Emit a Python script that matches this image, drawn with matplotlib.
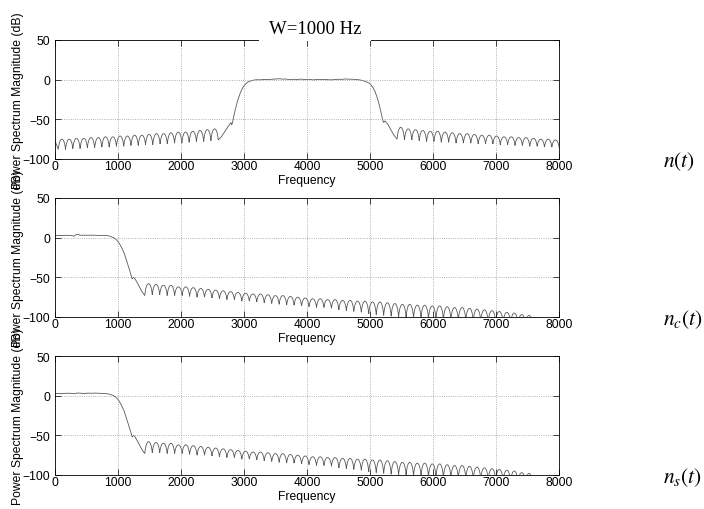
import numpy as np
import matplotlib.pyplot as plt
from matplotlib.path import Path
from matplotlib.patches import PathPatch, Rectangle

plt.rcParams['font.family'] = ['Liberation Sans', 'DejaVu Sans']
plt.rcParams['mathtext.fontset'] = 'stix'

# ---------------- n(t) : band-pass noise spectrum ----------------
# low stopband lobes (null frequencies / null levels / peak levels)
n_low_null_f = [52, 167, 283, 398, 514, 629, 744, 860, 975, 1091, 1206, 1321,
                1437, 1552, 1668, 1783, 1898, 2014, 2129, 2245, 2360, 2475, 2591]
n_low_null_db = [-88, -88, -87, -87, -86, -86, -85, -85, -84, -84, -83, -83,
                 -82, -82, -81, -81, -80, -80, -79, -78, -78, -77, -76]
n_low_peak_db = [-75, -75, -74, -74, -73, -73, -72, -72, -71, -71, -70, -70,
                 -69, -68, -68, -67, -66, -66, -65, -64, -63, -62]

# rising edge, passband and falling edge
n_band_f = [2640, 2690, 2740, 2775, 2792, 2803, 2815, 2840, 2870, 2900, 2940, 2980,
            3020, 3060, 3110, 3160, 3200, 3250, 3300, 3350, 3400, 3450, 3500, 3560,
            3620, 3660, 3700, 3760, 3800, 3850, 3900, 3950, 4000, 4050, 4100, 4150,
            4200, 4250, 4300, 4350, 4400, 4450, 4500, 4550, 4600, 4650, 4700, 4780,
            4850, 4900, 4950, 5000, 5040, 5080, 5120, 5150, 5180, 5200, 5215, 5235,
            5260, 5290, 5330, 5380]
n_band_db = [-72, -66, -60, -56, -54, -57, -55, -45, -35, -26, -17, -10,
             -6, -3, -1.5, -0.5, 0, -0.3, 0.3, 0.1, 0.2, 0.6, 0.8, 1.2,
             0.6, 0.8, 0.4, 0.2, 0.5, 0.2, 0.7, 0.3, 0.1, 0.4, -0.3, 0.2,
             0.4, 0.1, 0.2, -0.2, -0.2, 0.3, 0.5, 0.3, 0.9, 0.6, 0.6, 0.3,
             -0.5, -1.5, -3, -5, -9, -15, -24, -33, -43, -50, -54, -52,
             -54, -57, -63, -70]

# high stopband lobes
n_high_null_f = [5430, 5547, 5664, 5781, 5898, 6015, 6132, 6249, 6366, 6483, 6600, 6717,
                 6834, 6951, 7068, 7185, 7302, 7419, 7536, 7653, 7770, 7887, 8004]
n_high_null_db = [-75, -76, -76, -77, -78, -78, -79, -79, -80, -80, -80, -81,
                  -81, -81, -82, -82, -83, -83, -84, -84, -85, -85, -86]
n_high_peak_db = [-60, -62, -63, -64, -65, -65, -66, -67, -68, -68, -69, -70,
                  -70, -71, -72, -72, -73, -73, -74, -75, -75, -76]

# ---------------- n_c(t), n_s(t) : low-pass components ----------------
nc_pass_f = [0, 60, 120, 180, 240, 280, 300, 330, 360, 400, 460, 520, 580, 640, 700,
             760, 820, 870, 930, 980, 1020, 1060, 1100, 1140, 1180, 1210, 1225, 1245,
             1270, 1300, 1340, 1380]
nc_pass_db = [2.5, 2.7, 2.8, 3.0, 2.8, 2.5, 1.8, 3.5, 4.2, 3.0, 3.1, 3.0, 3.2, 3.0, 2.8,
              2.9, 2.6, 2.0, 0, -3, -7, -13, -20, -30, -40, -48, -52, -50,
              -52, -56, -62, -68]
ns_pass_f = nc_pass_f
ns_pass_db = [2.6, 2.9, 2.7, 3.1, 3.0, 2.6, 2.4, 3.0, 3.3, 3.1, 2.8, 3.2, 3.0, 3.3, 3.0,
              2.7, 2.5, 1.8, 0, -3, -7, -13, -20, -30, -40, -48, -52, -50,
              -52, -56, -62, -68]

lp_null_f = [1425, 1544, 1662, 1781, 1899, 2018, 2136, 2255, 2373, 2492, 2610, 2729,
             2847, 2966, 3084, 3203, 3321, 3440, 3558, 3677, 3795, 3914, 4032, 4151,
             4269, 4388, 4506, 4625, 4743, 4862, 4980, 5099, 5217, 5336, 5454, 5573,
             5691, 5810, 5928, 6047, 6165, 6284, 6402, 6521, 6639, 6758, 6876, 6995,
             7113, 7232, 7350, 7469, 7587]
lp_null_db = [-73, -72, -72, -73, -73, -73, -74, -75, -75, -76, -77, -78,
              -78, -80, -80, -81, -82, -83, -84, -85, -85, -86, -87, -88,
              -88, -89, -91, -92, -93, -94, -96, -97, -98, -99, -100, -100,
              -101, -101, -102, -102, -103, -103, -104, -104, -105, -105, -106, -106,
              -107, -108, -109, -110, -114]
lp_peak_db = [-58, -59, -60, -60, -62, -62, -63, -64, -65, -66, -67, -68,
              -69, -70, -71, -71, -72, -73, -73, -74, -75, -76, -77, -77,
              -78, -78, -79, -79, -80, -80, -81, -81, -82, -83, -84, -84,
              -85, -85, -86, -86, -87, -88, -88, -89, -90, -91, -92, -93,
              -94, -95, -97, -98]

freq_ticks = [0, 1000, 2000, 3000, 4000, 5000, 6000, 7000, 8000]
db_ticks = [-100, -50, 0, 50]
ylabel = 'Power Spectrum Magnitude (dB)'
side_labels = ['$n(t)$', '$n_c(t)$', '$n_s(t)$']


def add_lobes(verts, codes, null_f, null_db, peak_db):
    # each sidelobe is one cubic bezier from null to null, top at the peak level
    for i in range(len(peak_db)):
        xa, ya = null_f[i], null_db[i]
        xb, yb = null_f[i + 1], null_db[i + 1]
        c = (peak_db[i] - (ya + yb) / 8.0) * 4.0 / 3.0
        w = xb - xa
        verts += [(xa + 0.18 * w, c), (xb - 0.18 * w, c), (xb, yb)]
        codes += [Path.CURVE4] * 3


def add_line(verts, codes, f, db):
    verts += list(zip(f, db))
    codes += [Path.LINETO] * len(f)


# n(t) path
v1, c1 = [(0, -77)], [Path.MOVETO]
add_line(v1, c1, [n_low_null_f[0]], [n_low_null_db[0]])
add_lobes(v1, c1, n_low_null_f, n_low_null_db, n_low_peak_db)
add_line(v1, c1, n_band_f, n_band_db)
add_line(v1, c1, [n_high_null_f[0]], [n_high_null_db[0]])
add_lobes(v1, c1, n_high_null_f, n_high_null_db, n_high_peak_db)


def lowpass_path(pass_f, pass_db):
    v, c = [(pass_f[0], pass_db[0])], [Path.MOVETO]
    add_line(v, c, pass_f[1:], pass_db[1:])
    add_line(v, c, [lp_null_f[0]], [lp_null_db[0]])
    add_lobes(v, c, lp_null_f, lp_null_db, lp_peak_db)
    return v, c


v2, c2 = lowpass_path(nc_pass_f, nc_pass_db)
v3, c3 = lowpass_path(ns_pass_f, ns_pass_db)

fig = plt.figure(figsize=(7.04, 5.10), dpi=100)
W, H = 704.0, 510.0
left, right = 55, 559
panel_tops = [41, 199, 357]
panel_h = 119

for k, (verts, codes) in enumerate([(v1, c1), (v2, c2), (v3, c3)]):
    top = panel_tops[k]
    ax = fig.add_axes([left / W, 1 - (top + panel_h) / H, (right - left) / W, panel_h / H])
    ax.add_patch(PathPatch(Path(verts, codes), fill=False, edgecolor='0.35', linewidth=0.6))
    ax.set_xlim(0, 8000)
    ax.set_ylim(-100, 50)
    ax.set_xticks(freq_ticks)
    ax.set_yticks(db_ticks)
    ax.grid(True, linestyle=':', color='0.6', linewidth=0.6)
    ax.tick_params(direction='in', top=True, right=True, length=4, width=0.5,
                   labelsize=8.75, colors='black')
    ax.tick_params(axis='x', pad=1)
    ax.tick_params(axis='y', pad=3.5)
    for s in ax.spines.values():
        s.set_linewidth(0.6)
    ax.set_xlabel('Frequency', fontsize=8.75, labelpad=1)
    fig.text(18 / W, 1 - (top + panel_h / 2) / H, ylabel, rotation=90,
             ha='center', va='center', fontsize=8.75)
    fig.text(663 / W, 1 - (top + panel_h + 7) / H, side_labels[k], fontsize=15.5,
             ha='left', va='baseline')

# title sits on a white box that hides part of the top frame
fig.patches.append(Rectangle((259 / W, 1 - 42 / H), 112 / W, 20 / H, transform=fig.transFigure,
                             facecolor='white', edgecolor='none', zorder=2))
fig.text(315 / W, 1 - 33.5 / H, 'W=1000 Hz', fontsize=13.5, family='Liberation Serif',
         ha='center', va='baseline', zorder=3)

plt.savefig('out.png', dpi=100)
